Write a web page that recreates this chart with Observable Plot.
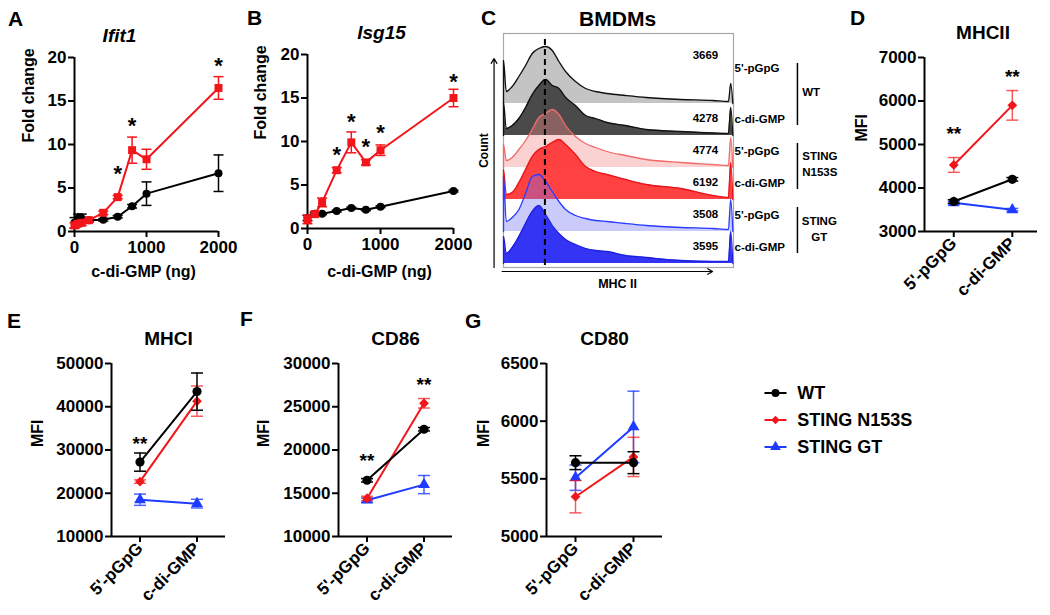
<!DOCTYPE html>
<html><head><meta charset="utf-8">
<script src="https://cdn.jsdelivr.net/npm/d3@7"></script>
<script src="https://cdn.jsdelivr.net/npm/@observablehq/plot@0.6"></script>
<style>
body{margin:0;background:#fff;}
#fig{position:relative;width:1050px;height:615px;overflow:hidden;font-family:'Liberation Sans',Arial,Helvetica,sans-serif;}
.lbl{position:absolute;font-weight:bold;font-size:21px;line-height:1;}
</style></head><body><div id="fig"></div>
<script>
// ---------------- DATA ----------------
// Panel A – Ifit1 (fold change vs c-di-GMP dose)
const ifit1Dose = [0, 50, 100, 200, 400, 600, 800, 1000, 2000];
const ifit1WT = [1.0, 1.5, 1.5, 1.3, 1.35, 1.7, 2.9, 4.35, 6.7];
const ifit1WTErr = [0.6, 0.5, 0.5, 0.2, 0.15, 0.15, 0.2, 1.35, 2.1];
const ifit1N153S = [0.7, 0.9, 1.0, 1.3, 2.15, 3.95, 9.35, 8.3, 16.5];
const ifit1N153SErr = [0.3, 0.3, 0.3, 0.2, 0.2, 0.2, 1.5, 1.15, 1.3];
const ifit1StarDose = [600, 800, 2000];
const ifit1StarY = [7.2, 12.7, 19.6];
// Panel B – Isg15
const isg15Dose = [0, 100, 200, 400, 600, 800, 1000, 2000];
const isg15WT = [1.2, 1.7, 1.7, 2.0, 2.35, 2.15, 2.5, 4.3];
const isg15WTErr = [0.3, 0.1, 0.1, 0.1, 0.1, 0.1, 0.1, 0.1];
const isg15N153S = [1.05, 1.65, 3.0, 6.7, 9.9, 7.6, 9.0, 15.0];
const isg15N153SErr = [0.5, 0.3, 0.5, 0.3, 1.2, 0.3, 0.6, 1.0];
const isg15StarDose = [400, 600, 800, 1000, 2000];
const isg15StarY = [9.0, 12.8, 9.9, 11.5, 17.4];
// Panel C – MHC II histograms (relative MHC II position, count heights)
const mhcPos = [0, 0, 0.012, 0.038, 0.067, 0.096, 0.125, 0.154, 0.183, 0.212, 0.241, 0.270, 0.313, 0.357, 0.40, 0.45, 0.53, 0.62, 0.77, 0.91, 0.978, 0.988, 0.997];
const histWTpGpG   = [0, 43, 12, 17, 27, 38, 50, 55, 57, 53, 42, 32, 22, 15, 12, 10, 8, 6, 4, 3, 2, 20, 0];
const histWTcdiGMP = [0, 33, 7, 10, 17, 28, 41, 50, 56, 50, 47, 38, 30, 20, 17, 13, 10, 6, 4, 2.5, 2, 28, 0];
const histN153SpGpG   = [0, 23, 7, 10, 18, 27, 38, 50, 54, 58, 53, 42, 31, 24, 20, 16, 12, 8, 5, 3, 2, 30, 0];
const histN153ScdiGMP = [0, 30, 5, 7, 17, 30, 43, 50, 53, 57, 60, 55, 45, 33, 28, 25, 20, 15, 11, 4, 2, 37, 0];
const histGTpGpG   = [0, 55, 10, 14, 22, 38, 55, 57, 50, 40, 30, 22, 16, 13, 11, 10, 8, 6, 4, 3, 2, 32, 0];
const histGTcdiGMP = [0, 27, 10, 16, 27, 40, 52, 58, 49, 38, 30, 24, 19, 15, 13, 12, 8, 6, 3, 2, 2, 32, 0];
const histMFI = ["3669", "4278", "4774", "6192", "3508", "3595"];
const histGroups = ["WT", "STING\nN153S", "STING\nGT"];
const histPeakRef = 0.18;
// Panels D–G
const treatments = ["5'-pGpG", "c-di-GMP"];
const groups = ["WT", "STING N153S", "STING GT"];
const mhciiWT = [3690, 4200], mhciiWTErr = [40, 40];
const mhciiN153S = [4530, 5900], mhciiN153SErr = [170, 340];
const mhciiGT = [3660, 3500], mhciiGTErr = [30, 30];
const mhciiStars = ["**", "**"], mhciiStarY = [5360, 6670];
const mhciWT = [27200, 43500], mhciWTErr = [2100, 4300];
const mhciN153S = [22700, 41300], mhciN153SErr = [400, 3500];
const mhciGT = [18500, 17600], mhciGTErr = [1300, 1000];
const mhciStars = ["**", ""], mhciStarY = [32600, null];
const cd86WT = [16500, 22400], cd86WTErr = [200, 200];
const cd86N153S = [14400, 25400], cd86N153SErr = [250, 550];
const cd86GT = [14200, 16000], cd86GTErr = [250, 1050];
const cd86Stars = ["**", "**"], cd86StarY = [19350, 28100];
const cd80WT = [5640, 5640], cd80WTErr = [60, 95];
const cd80N153S = [5345, 5690], cd80N153SErr = [140, 170];
const cd80GT = [5510, 5950], cd80GTErr = [110, 310];
const cd80Stars = ["", ""], cd80StarY = [null, null];

// ---------------- HELPERS ----------------
const FONT = "'Liberation Sans', Arial, Helvetica, sans-serif";
const RED = "#f2161b", BLUE = "#1f3bff", BLACK = "#000000";
const fig = document.getElementById("fig");
const baseStyle = {fontFamily: FONT, fontSize: "17px", fontWeight: "bold", background: "none", overflow: "visible", color: "black"};
function addSvg(svg, left, top) {
  svg.style.position = "absolute";
  svg.style.left = left + "px";
  svg.style.top = top + "px";
  fig.appendChild(svg);
}
function addLetter(t, left, baseline) {
  const d = document.createElement("div");
  d.className = "lbl"; d.textContent = t;
  d.style.left = left + "px"; d.style.top = (baseline - 0.846 * 21) + "px";
  fig.appendChild(d);
}
function seriesMarks(xs, ys, errs, color, symbol, r, capW, errOpacity) {
  const rows = xs.map((x, i) => ({x, y: ys[i], e: errs[i]}));
  const capSym = {draw(ctx) { ctx.moveTo(-capW / 2, 0); ctx.lineTo(capW / 2, 0); }};
  const eo = {stroke: color, strokeWidth: 1.5, strokeOpacity: errOpacity};
  return [
    Plot.ruleX(rows, {x: "x", y1: d => d.y - d.e, y2: d => d.y + d.e, ...eo}),
    Plot.dot(rows, {x: "x", y: d => d.y + d.e, symbol: capSym, fill: "none", ...eo}),
    Plot.dot(rows, {x: "x", y: d => d.y - d.e, symbol: capSym, fill: "none", ...eo}),
    Plot.line(rows, {x: "x", y: "y", stroke: color, strokeWidth: 2}),
    Plot.dot(rows, {x: "x", y: "y", symbol, r, fill: color, stroke: "none"})
  ];
}
const tickOpts = {tickSize: 6, fontSize: 17, fontWeight: "bold", strokeWidth: 2, label: null};

function dosePanel(o) {
  const marks = [
    Plot.ruleX([0], {stroke: "black", strokeWidth: 2}),
    Plot.ruleY([0], {stroke: "black", strokeWidth: 2}),
    Plot.axisX({...tickOpts, ticks: [0, 1000, 2000], tickFormat: d3.format("d"), tickPadding: 3}),
    Plot.axisY({...tickOpts, ticks: [0, 5, 10, 15, 20], tickFormat: d3.format("d"), tickPadding: 2}),
    ...seriesMarks(o.dose, o.wt, o.wtErr, BLACK, "circle", 4, 10, 1),
    ...seriesMarks(o.dose, o.n, o.nErr, RED, "square", 4.5, 10, 1),
    Plot.text(o.starX, {x: d => d, y: (d, i) => o.starY[i], text: () => "*", fontSize: 22, fontWeight: "bold", dy: 5}),
    Plot.text([o.title], {text: d => d, frameAnchor: "top", dx: o.titleDx, dy: -29, fontSize: 19, fontWeight: "bold", fontStyle: "italic"}),
    Plot.text(["Fold change"], {text: d => d, frameAnchor: "left", rotate: -90, dx: o.ylabDx, dy: -2, fontSize: 16, fontWeight: "bold"}),
    Plot.text(["c-di-GMP (ng)"], {text: d => d, frameAnchor: "bottom", dx: o.xlabDx, dy: o.xlabDy, fontSize: 16, fontWeight: "bold"})
  ];
  return Plot.plot({width: o.width, height: o.height, marginLeft: o.mL, marginRight: o.mR, marginTop: o.mT, marginBottom: o.mB,
    x: {domain: [0, 2000]}, y: {domain: [0, 20]}, style: baseStyle, marks});
}

function catPanel(o) {
  const idx = [0, 1];
  const marks = [
    Plot.ruleX([-0.5], {stroke: "black", strokeWidth: 2}),
    Plot.ruleY([o.yDomain[0]], {stroke: "black", strokeWidth: 2}),
    Plot.axisX({...tickOpts, ticks: idx, tickFormat: i => treatments[i], tickRotate: -45, tickPadding: 3}),
    Plot.axisY({...tickOpts, ticks: o.yTicks, tickFormat: d3.format("d"), tickPadding: 2}),
    ...seriesMarks(idx, o.gt, o.gtErr, BLUE, "triangle", 4.4, 12, 0.8),
    ...seriesMarks(idx, o.n, o.nErr, RED, "diamond2", 4.4, 12, 0.7),
    ...seriesMarks(idx, o.wt, o.wtErr, BLACK, "circle", 4.6, 12, 1),
    Plot.text(idx.filter(i => o.stars[i]), {x: i => i, y: i => o.starY[i], text: i => o.stars[i], fontSize: 19, fontWeight: "bold", dy: 5}),
    Plot.text([o.title], {text: d => d, frameAnchor: "top", dx: o.titleDx || 0, dy: -32, fontSize: 19, fontWeight: "bold"}),
    Plot.text(["MFI"], {text: d => d, frameAnchor: "left", rotate: -90, dx: o.ylabDx, dy: -3, fontSize: 16, fontWeight: "bold"})
  ];
  return Plot.plot({width: o.width, height: o.height, marginLeft: o.mL, marginRight: o.mR, marginTop: o.mT, marginBottom: o.mB,
    x: {domain: [-0.5, o.xMax]}, y: {domain: o.yDomain}, style: baseStyle, marks});
}

// ---------------- PANEL A ----------------
addSvg(dosePanel({width: 255, height: 300, mL: 74, mR: 37, mT: 57, mB: 69,
  dose: ifit1Dose, wt: ifit1WT, wtErr: ifit1WTErr, n: ifit1N153S, nErr: ifit1N153SErr,
  starX: ifit1StarDose, starY: ifit1StarY, title: "Ifit1", titleDx: -27, ylabDx: -46, xlabDx: -3, xlabDy: 45}), 0, 0);
// ---------------- PANEL B ----------------
addSvg(dosePanel({width: 245, height: 300, mL: 72, mR: 27, mT: 54, mB: 72,
  dose: isg15Dose, wt: isg15WT, wtErr: isg15WTErr, n: isg15N153S, nErr: isg15N153SErr,
  starX: isg15StarDose, starY: isg15StarY, title: "Isg15", titleDx: 1, ylabDx: -47, xlabDx: -1, xlabDy: 48}), 235, 0);

// ---------------- PANEL C ----------------
(function () {
  const ridges = [histWTpGpG, histWTcdiGMP, histN153SpGpG, histN153ScdiGMP, histGTpGpG, histGTcdiGMP];
  const styles = [
    {fill: "#c4c4c4", op: 1, stroke: "#111"},
    {fill: "#4a4a4a", op: 1, stroke: "#111"},
    {fill: "#f28a8a", op: 0.38, stroke: "#f26b6b"},
    {fill: "#ff3b3b", op: 0.97, stroke: "#e8141a"},
    {fill: "#6f6ff5", op: 0.36, stroke: "#2a3cff"},
    {fill: "#3434f4", op: 1, stroke: "#2020e0"}
  ];
  const gap = 32;
  const offs = ridges.map((_, i) => (5 - i) * gap);
  const marks = [Plot.frame({stroke: "#a8a8a8", strokeWidth: 1.2})];
  ridges.forEach((h, i) => {
    const rows = mhcPos.map((p, j) => ({x: p, b: offs[i], t: offs[i] + h[j]}));
    marks.push(Plot.areaY(rows, {x: "x", y1: "b", y2: "t", fill: styles[i].fill, fillOpacity: styles[i].op, curve: "monotone-x"}));
    marks.push(Plot.line(rows, {x: "x", y: "t", stroke: styles[i].stroke, strokeWidth: 1.3, curve: "monotone-x"}));
  });
  marks.push(Plot.ruleX([histPeakRef], {y1: -2, y2: 225, stroke: "black", strokeWidth: 2, strokeDasharray: "6,4"}));
  marks.push(Plot.text(histMFI, {x: 0.878, y: (d, i) => offs[i] + (i === 0 ? 48 : 17), text: d => d, fontSize: 11.5, fontWeight: "bold"}));
  marks.push(Plot.text(ridges.map((_, i) => treatments[i % 2]), {x: 1, y: (d, i) => offs[i] + (i === 0 ? 35 : 16), text: d => d, textAnchor: "start", dx: 1, fontSize: 11.5, fontWeight: "bold"}));
  const br = histGroups.map((g, k) => ({g, k, y1: offs[2 * k + 1] + 10, y2: offs[2 * k] + (k === 0 ? 40 : 24)}));
  marks.push(Plot.ruleX(br, {x: 1.278, y1: "y1", y2: "y2", stroke: "black", strokeWidth: 1.5}));
  marks.push(Plot.text(br.filter(d => d.k < 2), {x: 1.299, y: d => (d.y1 + d.y2) / 2 + 4, text: "g", textAnchor: "start", lineHeight: 1.45, fontSize: 11.5, fontWeight: "bold"}));
  marks.push(Plot.text(br.filter(d => d.k === 2), {x: 1.373, y: d => (d.y1 + d.y2) / 2 + 3, text: "g", textAnchor: "middle", lineHeight: 1.45, fontSize: 11.5, fontWeight: "bold"}));
  marks.push(Plot.arrow([{x1: -0.041, y1: -4, x2: -0.041, y2: 205}], {x1: "x1", y1: "y1", x2: "x2", y2: "y2", stroke: "black", strokeWidth: 1.2, headLength: 7}));
  marks.push(Plot.arrow([{x1: -0.006, y1: -8, x2: 0.909, y2: -8}], {x1: "x1", y1: "y1", x2: "x2", y2: "y2", stroke: "black", strokeWidth: 1.2, headLength: 7}));
  marks.push(Plot.text(["Count"], {x: -0.085, y: 113, text: d => d, rotate: -90, fontSize: 12, fontWeight: "bold"}));
  marks.push(Plot.text(["MHC II"], {x: 0.496, y: -20, text: d => d, fontSize: 12.5, fontWeight: "bold"}));
  marks.push(Plot.text(["BMDMs"], {x: 0.496, y: 244, text: d => d, fontSize: 21, fontWeight: "bold"}));
  addSvg(Plot.plot({width: 380, height: 300, marginLeft: 33, marginRight: 117, marginTop: 33, marginBottom: 33,
    x: {domain: [0, 1], axis: null}, y: {domain: [-4, 230], axis: null}, style: baseStyle, marks}), 470, 0);
})();

// ---------------- PANEL D ----------------
addSvg(catPanel({width: 210, height: 300, mL: 84, mR: 13, mT: 57, mB: 69, xMax: 1.43,
  yDomain: [3000, 7000], yTicks: [3000, 4000, 5000, 6000, 7000],
  wt: mhciiWT, wtErr: mhciiWTErr, n: mhciiN153S, nErr: mhciiN153SErr, gt: mhciiGT, gtErr: mhciiGTErr,
  stars: mhciiStars, starY: mhciiStarY, title: "MHCII", titleDx: 2, ylabDx: -63}), 840, 0);
// ---------------- PANEL E ----------------
addSvg(catPanel({width: 240, height: 315, mL: 111, mR: 15, mT: 63, mB: 79, xMax: 1.5,
  yDomain: [10000, 50000], yTicks: [10000, 20000, 30000, 40000, 50000],
  wt: mhciWT, wtErr: mhciWTErr, n: mhciN153S, nErr: mhciN153SErr, gt: mhciGT, gtErr: mhciGTErr,
  stars: mhciStars, starY: mhciStarY, title: "MHCI", ylabDx: -74}), 0, 300);
// ---------------- PANEL F ----------------
addSvg(catPanel({width: 230, height: 315, mL: 98, mR: 18, mT: 63, mB: 79, xMax: 1.5,
  yDomain: [10000, 30000], yTicks: [10000, 15000, 20000, 25000, 30000],
  wt: cd86WT, wtErr: cd86WTErr, n: cd86N153S, nErr: cd86N153SErr, gt: cd86GT, gtErr: cd86GTErr,
  stars: cd86Stars, starY: cd86StarY, title: "CD86", ylabDx: -75}), 240, 300);
// ---------------- PANEL G ----------------
addSvg(catPanel({width: 220, height: 315, mL: 76, mR: 28, mT: 63, mB: 79, xMax: 1.5,
  yDomain: [5000, 6500], yTicks: [5000, 5500, 6000, 6500],
  wt: cd80WT, wtErr: cd80WTErr, n: cd80N153S, nErr: cd80N153SErr, gt: cd80GT, gtErr: cd80GTErr,
  stars: cd80Stars, starY: cd80StarY, title: "CD80", ylabDx: -63}), 470, 300);

// ---------------- LEGEND ----------------
(function () {
  const colors = [BLACK, RED, BLUE], symbols = ["circle", "diamond2", "triangle"], rs = [4, 3.8, 4];
  const marks = [];
  groups.forEach((g, i) => {
    marks.push(Plot.link([i], {x1: 0, x2: 1, y1: d => d, y2: d => d, stroke: colors[i], strokeWidth: 2}));
    marks.push(Plot.dot([i], {x: 0.5, y: d => d, symbol: symbols[i], r: rs[i], fill: colors[i], stroke: "none"}));
    marks.push(Plot.text([g], {x: 1.49, y: () => i, text: d => d, textAnchor: "start", fontSize: 18, fontWeight: "bold"}));
  });
  addSvg(Plot.plot({width: 300, height: 100, margin: 0, x: {domain: [0, 1], range: [14, 36], axis: null},
    y: {domain: [0, 2], range: [22.5, 76.5], axis: null}, style: baseStyle, marks}), 750, 370);
})();

// ---------------- PANEL LETTERS ----------------
addLetter("A", 8, 26); addLetter("B", 247, 25); addLetter("C", 481, 25); addLetter("D", 850, 25);
addLetter("E", 7, 328); addLetter("F", 240, 326); addLetter("G", 465, 328);
</script></body></html>
